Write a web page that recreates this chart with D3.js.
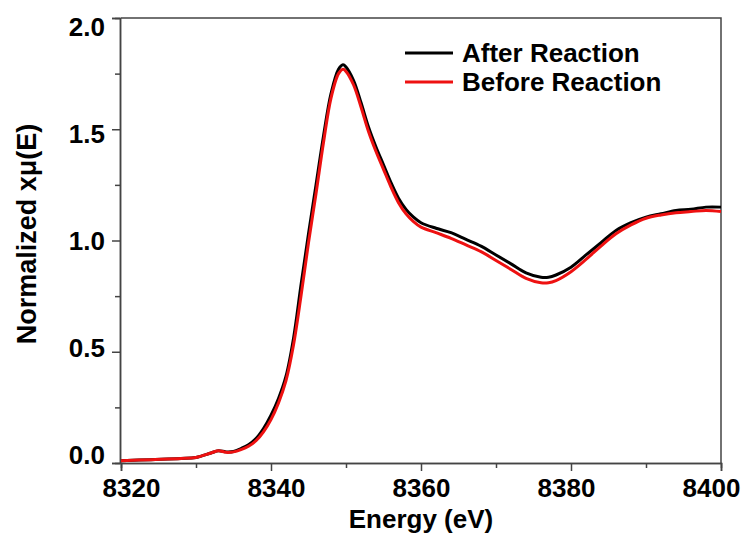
<!DOCTYPE html>
<html>
<head>
<meta charset="utf-8">
<script src="https://cdn.jsdelivr.net/npm/d3@7"></script>
<style>
  body { margin: 0; background: #fff; }
  text { font-family: "Liberation Sans", Arial, sans-serif; font-weight: bold; fill: #000; }
</style>
</head>
<body>
<script>
// energy grid (eV) shared by both spectra
const energy = [8320, 8324, 8328, 8330, 8332, 8333, 8334, 8335, 8336, 8337, 8338, 8339, 8340, 8341, 8342, 8343,
  8344, 8345, 8346, 8347, 8348, 8349, 8349.6, 8350, 8351, 8352, 8353, 8354, 8355, 8356, 8357, 8358, 8359, 8360,
  8362, 8364, 8366, 8368, 8370, 8372, 8374, 8376, 8377, 8378, 8380, 8382, 8384, 8386, 8388, 8390, 8392, 8394,
  8396, 8398, 8400];

const afterReaction = [0.01, 0.015, 0.02, 0.025, 0.045, 0.055, 0.05, 0.052, 0.065, 0.082, 0.11, 0.155, 0.215, 0.29, 0.39, 0.56,
  0.80, 1.03, 1.25, 1.47, 1.66, 1.77, 1.79, 1.78, 1.72, 1.62, 1.51, 1.42, 1.34, 1.26, 1.19, 1.14, 1.105, 1.08,
  1.055, 1.035, 1.005, 0.975, 0.935, 0.895, 0.855, 0.835, 0.835, 0.845, 0.88, 0.935, 0.99, 1.045, 1.08, 1.105, 1.12, 1.135,
  1.14, 1.15, 1.15];

const beforeReaction = [0.01, 0.015, 0.02, 0.025, 0.045, 0.055, 0.048, 0.05, 0.06, 0.075, 0.10, 0.14, 0.195, 0.27, 0.37, 0.53,
  0.75, 0.99, 1.21, 1.44, 1.64, 1.75, 1.77, 1.76, 1.70, 1.60, 1.49, 1.40, 1.32, 1.24, 1.17, 1.12, 1.085, 1.06,
  1.035, 1.01, 0.98, 0.95, 0.91, 0.87, 0.83, 0.81, 0.81, 0.82, 0.86, 0.915, 0.975, 1.03, 1.07, 1.10, 1.115, 1.125,
  1.13, 1.135, 1.13];

const xMajor = [8320, 8340, 8360, 8380, 8400];
const xMinor = [8330, 8350, 8370, 8390];
const yMajor = [0, 0.5, 1.0, 1.5, 2.0];
const yMinor = [0.25, 0.75, 1.25, 1.75];

const series = [
  { name: 'After Reaction', values: afterReaction, color: '#000000' },
  { name: 'Before Reaction', values: beforeReaction, color: '#ee1111' }
];

const width = 745, height = 540;
const plot = { left: 121, right: 721, top: 18, bottom: 463 };

const svg = d3.select('body').append('svg')
  .attr('width', width)
  .attr('height', height);

const x = d3.scaleLinear().domain([8320, 8400]).range([plot.left, plot.right]);
const y = d3.scaleLinear().domain([0, 2]).range([plot.bottom, plot.top]);
// tick labels in the original sit a little inside the tick positions
const xLabel = d3.scaleLinear().domain([8320, 8400]).range([131, 711]);
const yLabel = d3.scaleLinear().domain([0, 2]).range([455, 27]);

const axisColor = '#444';

// frame (top and right)
svg.append('path')
  .attr('d', `M${plot.left},${plot.top}H${plot.right}V${plot.bottom}`)
  .attr('fill', 'none')
  .attr('stroke', axisColor)
  .attr('stroke-width', 1.5);

// x axis
const gx = svg.append('g')
  .attr('transform', `translate(0,${plot.bottom})`)
  .call(d3.axisBottom(x).tickValues(xMajor).tickSize(8).tickPadding(8).tickFormat(d3.format('d')));
gx.append('g').call(d3.axisBottom(x).tickValues(xMinor).tickSize(5).tickFormat(''));
gx.selectAll('.tick text')
  .attr('transform', d => `translate(${xLabel(d) - x(d)},0)`)
  .style('font-size', '26px');

// y axis
const gy = svg.append('g')
  .attr('transform', `translate(${plot.left - 1},0)`)
  .call(d3.axisLeft(y).tickValues(yMajor).tickSize(8).tickPadding(7).tickFormat(d3.format('.1f')));
gy.append('g').call(d3.axisLeft(y).tickValues(yMinor).tickSize(5).tickFormat(''));
gy.selectAll('.tick text')
  .attr('transform', d => `translate(0,${yLabel(d) - y(d)})`)
  .style('font-size', '26px');

svg.selectAll('.domain').attr('stroke', axisColor).attr('stroke-width', 1.5);
svg.selectAll('.tick line').attr('stroke', axisColor).attr('stroke-width', 1.5);
svg.selectAll('.tick text').attr('fill', '#000').style('font-family', '"Liberation Sans", Arial, sans-serif').style('font-weight', 'bold');

// lines
const line = d3.line()
  .x((d, i) => x(energy[i]))
  .y(d => y(d))
  .curve(d3.curveCatmullRom.alpha(0.5));

svg.selectAll('.spectrum')
  .data(series)
  .enter().append('path')
  .attr('class', 'spectrum')
  .attr('d', d => line(d.values))
  .attr('fill', 'none')
  .attr('stroke', d => d.color)
  .attr('stroke-width', 3)
  .attr('stroke-linejoin', 'round');

// axis titles
svg.append('text')
  .attr('x', (plot.left + plot.right) / 2)
  .attr('y', 528)
  .attr('text-anchor', 'middle')
  .style('font-size', '26px')
  .text('Energy (eV)');

svg.append('text')
  .attr('transform', 'translate(36,234) rotate(-90)')
  .attr('text-anchor', 'middle')
  .style('font-size', '27px')
  .text('Normalized xμ(E)');

// legend
const legend = svg.selectAll('.legend')
  .data(series)
  .enter().append('g')
  .attr('class', 'legend')
  .attr('transform', (d, i) => `translate(405,${53 + i * 29})`);

legend.append('line')
  .attr('x1', 0).attr('x2', 48)
  .attr('stroke', d => d.color)
  .attr('stroke-width', 3);

legend.append('text')
  .attr('x', 57)
  .attr('y', 9)
  .style('font-size', '26px')
  .text(d => d.name);
</script>
</body>
</html>
